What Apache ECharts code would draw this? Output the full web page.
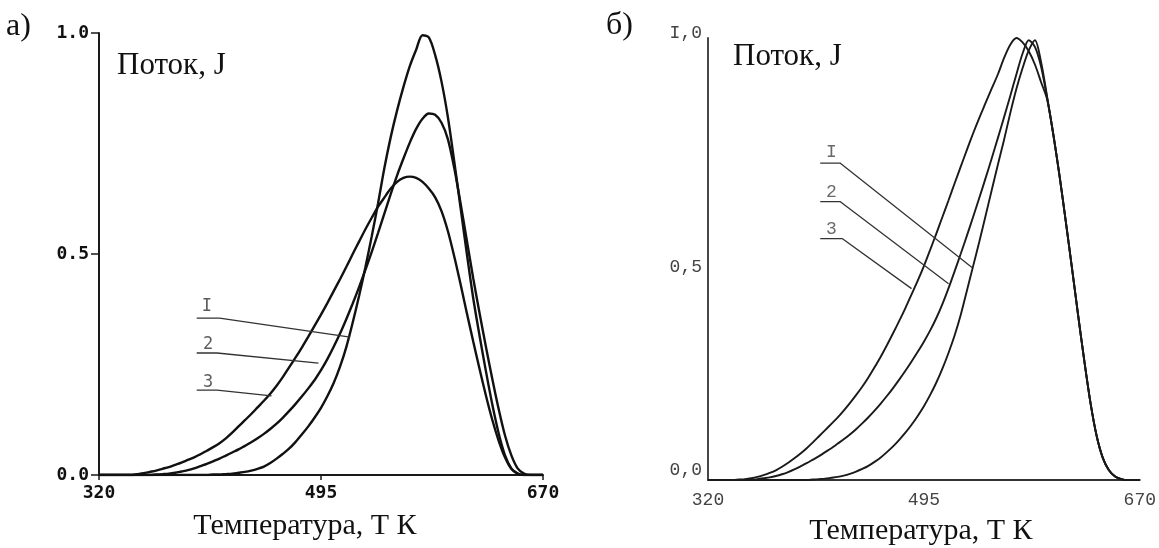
<!DOCTYPE html>
<html>
<head>
<meta charset="utf-8">
<script src="https://cdn.jsdelivr.net/npm/echarts@6/dist/echarts.min.js"></script>
<style>
  html, body { margin: 0; padding: 0; background: #fff; }
  #chart { width: 1159px; height: 548px; }
</style>
</head>
<body>
<div id="chart"></div>
<script>
// оси
const tempTicks = [320, 495, 670];
const fluxTicks = [0, 0.5, 1];
const fluxTextA = ['0.0', '0.5', '1.0'];
const fluxTextB = ['{up10|0,0}', '{dn8|0,5}', '{up5|I,0}'];
const curveNames = ['I', '2', '3'];

// температура, шаг 5 K
const temps = [];
for (let t = 320; t <= 670; t += 5) temps.push(t);

// а) поток J при каждой температуре
const a1 = [0,0,0,0,0,0,0,0,0,0,0,0,0,0,0,0,0, 0,0.001,0.001,0.002,0.003,0.005,0.007,0.01,0.014,0.019,0.027,0.037,0.048,0.06,0.075,0.092,0.11,0.13,0.152,0.178,0.208,0.245,0.29,0.345,0.405,0.47,0.54,0.615,0.695,0.765,0.825,0.878,0.925,0.962,0.995,0.99,0.95,0.89,0.81,0.71,0.605,0.5,0.4,0.315,0.235,0.16,0.095,0.045,0.015,0.003,0,0,0,0];
const a2 = [0,0,0,0,0,0,0,0,0, 0.001,0.002,0.003,0.005,0.008,0.011,0.015,0.02,0.025,0.031,0.037,0.044,0.051,0.058,0.066,0.074,0.083,0.093,0.104,0.116,0.13,0.145,0.161,0.178,0.196,0.215,0.237,0.262,0.29,0.32,0.353,0.388,0.425,0.464,0.505,0.548,0.592,0.636,0.678,0.716,0.752,0.783,0.806,0.818,0.815,0.797,0.76,0.695,0.615,0.53,0.445,0.366,0.29,0.218,0.15,0.09,0.045,0.015,0.003,0,0,0,0];
const a3 = [0,0,0,0,0,0, 0.002,0.004,0.007,0.01,0.014,0.018,0.023,0.028,0.034,0.04,0.047,0.055,0.063,0.072,0.083,0.096,0.11,0.124,0.138,0.153,0.168,0.184,0.202,0.222,0.244,0.266,0.289,0.313,0.338,0.363,0.389,0.416,0.443,0.471,0.5,0.528,0.556,0.582,0.607,0.628,0.648,0.663,0.672,0.675,0.672,0.663,0.648,0.628,0.597,0.552,0.495,0.432,0.366,0.302,0.24,0.18,0.125,0.078,0.04,0.014,0.003,0,0,0,0];

// б)
const b1 = [0,0,0,0,0,0,0,0,0,0,0,0,0,0,0,0,0, 0.001,0.002,0.003,0.005,0.007,0.01,0.014,0.019,0.025,0.032,0.041,0.051,0.063,0.076,0.091,0.107,0.125,0.145,0.167,0.192,0.22,0.252,0.288,0.328,0.375,0.43,0.485,0.54,0.598,0.656,0.714,0.77,0.83,0.885,0.932,0.972,0.995,0.945,0.865,0.78,0.687,0.585,0.48,0.373,0.27,0.175,0.1,0.05,0.022,0.008,0.002,0,0,0];
const b2 = [0,0,0,0,0,0,0, 0.001,0.002,0.004,0.006,0.009,0.013,0.018,0.024,0.031,0.038,0.046,0.054,0.063,0.072,0.082,0.092,0.103,0.115,0.128,0.142,0.157,0.173,0.19,0.208,0.227,0.247,0.268,0.29,0.313,0.338,0.366,0.398,0.434,0.473,0.513,0.554,0.596,0.639,0.683,0.728,0.774,0.821,0.869,0.918,0.965,0.995,0.98,0.935,0.862,0.78,0.687,0.585,0.48,0.373,0.27,0.175,0.1,0.05,0.022,0.008,0.002,0,0,0];
const b3 = [0,0,0,0,0, 0.001,0.002,0.004,0.007,0.011,0.016,0.022,0.03,0.039,0.049,0.06,0.072,0.085,0.099,0.113,0.127,0.141,0.157,0.174,0.192,0.211,0.232,0.255,0.279,0.305,0.332,0.36,0.389,0.42,0.451,0.484,0.52,0.557,0.595,0.633,0.672,0.71,0.748,0.785,0.82,0.853,0.886,0.918,0.955,0.985,1.0,0.99,0.97,0.94,0.9,0.86,0.78,0.687,0.585,0.48,0.373,0.27,0.175,0.1,0.05,0.022,0.008,0.002,0,0,0];

// выноски с номерами кривых (в единицах осей)
const leaderA = [
  [[397,0.355],[415,0.355],[518,0.312]],
  [[397,0.276],[413,0.276],[493,0.253]],
  [[397,0.192],[413,0.192],[456,0.179]]
];
const labelA = [[405,0.381],[406,0.296],[406,0.21]];
const leaderB = [
  [[411,0.717],[427,0.717],[534,0.481]],
  [[411,0.630],[427,0.630],[515,0.444]],
  [[411,0.546],[429,0.546],[485,0.433]]
];
const labelB = [[420,0.741],[420,0.652],[420,0.567]];

const chart = echarts.init(document.getElementById('chart'), null, { renderer: 'canvas' });

function xAxisFor(grid, style) {
  return {
    gridIndex: grid, type: 'value', min: 320, max: 670,
    splitLine: { show: false },
    axisLine: { lineStyle: { color: style.axis, width: style.axisW } },
    axisTick: { show: style.ticks, length: 5, customValues: tempTicks, lineStyle: { color: style.axis, width: 1.5 } },
    axisLabel: { customValues: tempTicks, margin: style.xMargin, color: style.text, fontFamily: style.font, fontWeight: style.weight, fontSize: style.size }
  };
}
function yAxisFor(grid, style, texts, rich) {
  return {
    gridIndex: grid, type: 'value', min: 0, max: 1, interval: 0.5,
    splitLine: { show: false },
    axisLine: { lineStyle: { color: style.axis, width: style.axisW } },
    axisTick: { show: style.ticks, length: 8, lineStyle: { color: style.axis, width: 1.5 } },
    axisLabel: {
      margin: style.yMargin, color: style.text, fontFamily: style.font, fontWeight: style.weight, fontSize: style.size,
      formatter: v => texts[fluxTicks.indexOf(v)], rich: rich
    }
  };
}

const styleA = { axis: '#1a1a1a', axisW: 2, ticks: true, text: '#111', font: 'DejaVu Sans Mono', weight: 'bold', size: 18, xMargin: 9, yMargin: 10 };
const styleB = { axis: '#333', axisW: 1.8, ticks: false, text: '#444', font: 'Liberation Mono', weight: 'normal', size: 18, xMargin: 11, yMargin: 6 };
const fontB = { color: '#444', fontFamily: 'Liberation Mono', fontSize: 18 };
const richB = {
  up10: Object.assign({ padding: [0, 0, 20, 0] }, fontB),
  dn8: Object.assign({ padding: [16, 0, 0, 0] }, fontB),
  up5: Object.assign({ padding: [0, 0, 10, 0] }, fontB)
};

function curve(values, grid, color, width) {
  return { type: 'line', xAxisIndex: grid, yAxisIndex: grid, data: temps.map((t, i) => [t, values[i]]),
    smooth: 0.3, symbol: 'none', lineStyle: { color: color, width: width }, silent: true };
}
function leader(data, grid, color) {
  return { type: 'line', xAxisIndex: grid, yAxisIndex: grid, data: data, smooth: false, symbol: 'none',
    lineStyle: { color: color, width: 1.3 }, silent: true };
}
function labels(data, grid, color, font, size) {
  return { type: 'scatter', xAxisIndex: grid, yAxisIndex: grid, symbolSize: 0, silent: true,
    data: data.map((p, i) => [p[0], p[1], curveNames[i]]),
    label: { show: true, position: 'inside', formatter: p => p.data[2], color: color, fontFamily: font, fontSize: size } };
}

const serif = '"Liberation Serif"';
const option = {
  animation: false,
  backgroundColor: '#fff',
  grid: [
    { left: 99, top: 33, width: 444, height: 442 },
    { left: 708, top: 38, width: 440, height: 442 }
  ],
  xAxis: [xAxisFor(0, styleA), xAxisFor(1, styleB)],
  yAxis: [yAxisFor(0, styleA, fluxTextA), yAxisFor(1, styleB, fluxTextB, richB)],
  series: [
    curve(a1, 0, '#111', 2.4), curve(a2, 0, '#111', 2.4), curve(a3, 0, '#111', 2.4),
    curve(b1, 1, '#1a1a1a', 1.9), curve(b2, 1, '#1a1a1a', 1.9), curve(b3, 1, '#1a1a1a', 1.9),
    ...leaderA.map(d => leader(d, 0, '#333')),
    ...leaderB.map(d => leader(d, 1, '#333')),
    labels(labelA, 0, '#333', 'DejaVu Sans Mono', 17),
    labels(labelB, 1, '#444', 'Liberation Mono', 18)
  ],
  graphic: [
    { type: 'text', x: 6, y: 27, style: { text: 'а)', font: '32px ' + serif, fill: '#111', verticalAlign: 'middle' } },
    { type: 'text', x: 606, y: 26, style: { text: 'б)', font: '32px ' + serif, fill: '#111', verticalAlign: 'middle' } },
    { type: 'text', x: 117, y: 66, style: { text: 'Поток, J', font: '31px ' + serif, fill: '#111', verticalAlign: 'middle' } },
    { type: 'text', x: 733, y: 57, style: { text: 'Поток, J', font: '31px ' + serif, fill: '#111', verticalAlign: 'middle' } },
    { type: 'text', x: 305, y: 526, style: { text: 'Температура, Т К', font: '30px ' + serif, fill: '#111', align: 'center', verticalAlign: 'middle' } },
    { type: 'text', x: 921, y: 531, style: { text: 'Температура, Т К', font: '30px ' + serif, fill: '#111', align: 'center', verticalAlign: 'middle' } }
  ]
};
chart.setOption(option);
</script>
</body>
</html>
